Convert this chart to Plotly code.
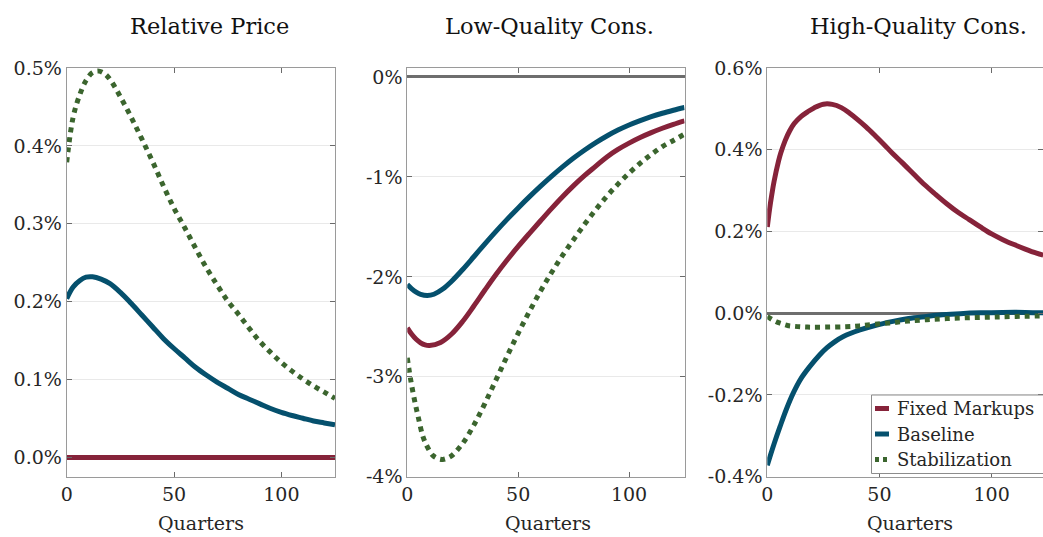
import plotly.graph_objects as go

# ---------------- data ----------------
titles = ["Relative Price", "Low-Quality Cons.", "High-Quality Cons."]
series_names = ["Fixed Markups", "Baseline", "Stabilization"]
x_label = "Quarters"

# Panel 1: Relative Price (%)
p1_fixed_t = [0, 25, 50, 75, 100, 125]
p1_fixed_v = [0, 0, 0, 0, 0, 0]
p1_base_t = [0, 3, 6, 9, 12, 16, 20, 25, 30, 35, 40, 45, 50, 55, 60, 65, 70, 75, 80, 85, 90, 95,
             100, 105, 110, 115, 120, 125]
p1_base_v = [0.204, 0.219, 0.227, 0.2315, 0.232, 0.229, 0.2235, 0.212, 0.198, 0.183, 0.168, 0.153,
             0.140, 0.128, 0.116, 0.106, 0.097, 0.089, 0.081, 0.075, 0.069, 0.063, 0.058, 0.054,
             0.0505, 0.047, 0.0445, 0.042]
p1_stab_t = [0, 3, 6, 9, 12, 15, 18, 21, 25, 30, 35, 40, 45, 50, 55, 60, 65, 70, 75, 80, 85, 90,
             95, 100, 105, 110, 115, 120, 125]
p1_stab_v = [0.379, 0.437, 0.465, 0.484, 0.494, 0.496, 0.492, 0.482, 0.463, 0.437, 0.409, 0.380,
             0.349, 0.320, 0.295, 0.269, 0.244, 0.222, 0.201, 0.184, 0.166, 0.149, 0.135, 0.122,
             0.111, 0.101, 0.092, 0.084, 0.076]

# Panel 2: Low-Quality Consumption (%)
p2_fixed_t = [0, 2, 4, 6, 8, 10, 15, 20, 25, 30, 35, 40, 45, 50, 55, 60, 65, 70, 75, 80, 85, 90,
              95, 100, 105, 110, 115, 120, 125]
p2_fixed_v = [-2.51, -2.575, -2.625, -2.66, -2.681, -2.687, -2.657, -2.572, -2.445, -2.292, -2.132,
              -1.977, -1.832, -1.696, -1.567, -1.441, -1.317, -1.198, -1.087, -0.985, -0.892,
              -0.80, -0.725, -0.662, -0.606, -0.557, -0.513, -0.474, -0.438]
p2_base_t = [0, 2, 4, 6, 9, 12, 16, 20, 25, 30, 35, 40, 45, 50, 55, 60, 65, 70, 75, 80, 85, 90,
             95, 100, 105, 110, 115, 120, 125]
p2_base_v = [-2.077, -2.12, -2.153, -2.175, -2.187, -2.174, -2.122, -2.044, -1.926, -1.799, -1.670,
             -1.545, -1.425, -1.31, -1.2, -1.095, -0.995, -0.900, -0.811, -0.730, -0.656, -0.590,
             -0.531, -0.480, -0.436, -0.397, -0.363, -0.333, -0.305]
p2_stab_t = [0, 1, 2, 3.5, 5, 7, 9, 11.5, 14, 16, 18, 20, 25, 30, 35, 40, 45, 50, 55, 60, 65, 70,
             75, 80, 85, 90, 95, 100, 105, 110, 115, 120, 125]
p2_stab_v = [-2.81, -2.96, -3.09, -3.26, -3.41, -3.594, -3.70, -3.787, -3.82, -3.827, -3.815,
             -3.791, -3.666, -3.484, -3.266, -3.031, -2.794, -2.565, -2.349, -2.146, -1.959,
             -1.786, -1.627, -1.472, -1.327, -1.193, -1.072, -0.962, -0.863, -0.776, -0.697,
             -0.635, -0.572]

# Panel 3: High-Quality Consumption (%)
p3_fixed_t = [0, 1, 2, 3, 5, 6, 8, 10, 12, 15, 18, 21, 25, 29, 33, 37, 40, 44, 48, 52, 56, 60,
              65, 70, 75, 80, 85, 90, 95, 100, 105, 110, 115, 120, 123]
p3_fixed_v = [0.211, 0.254, 0.290, 0.322, 0.372, 0.392, 0.423, 0.4465, 0.464, 0.481, 0.493, 0.503,
              0.5115, 0.511, 0.503, 0.488, 0.475, 0.456, 0.435, 0.413, 0.39, 0.369, 0.342, 0.315,
              0.291, 0.268, 0.247, 0.229, 0.211, 0.194, 0.180, 0.168, 0.157, 0.147, 0.142]
p3_base_t = [0, 3, 5.7, 8.5, 11.6, 15, 19, 23, 26.5, 30, 33.9, 41.3, 48, 56, 63, 71, 78, 86, 95,
             105, 115, 123]
p3_base_v = [-0.372, -0.32, -0.277, -0.235, -0.195, -0.16, -0.13, -0.104, -0.085, -0.07, -0.057,
             -0.041, -0.03, -0.02, -0.013, -0.008, -0.004, -0.001, 0.001, 0.002, 0.002, 0.001]
p3_stab_t = [0, 2, 4, 6, 9, 12, 18, 26, 35, 41, 48, 56, 63, 71, 80, 90, 100, 110, 123]
p3_stab_v = [-0.008, -0.015, -0.021, -0.025, -0.03, -0.032, -0.034, -0.034, -0.033, -0.031, -0.027,
             -0.023, -0.019, -0.016, -0.013, -0.011, -0.0095, -0.008, -0.0065]

# axis ticks
x_ticks = [0, 50, 100]
p1_yticks = [0.0, 0.1, 0.2, 0.3, 0.4, 0.5]
p1_ylabels = ["0.0%", "0.1%", "0.2%", "0.3%", "0.4%", "0.5%"]
p2_yticks = [0, -1, -2, -3, -4]
p2_ylabels = ["0%", "-1%", "-2%", "-3%", "-4%"]
p3_yticks = [0.6, 0.4, 0.2, 0.0, -0.2, -0.4]
p3_ylabels = ["0.6%", "0.4%", "0.2%", "0.0%", "-0.2%", "-0.4%"]

# ---------------- styling ----------------
W, H = 1043, 537
FONT = "DejaVu Serif"
RED = "#86233a"
BLUE = "#05506d"
GREEN = "#3b652e"
colors = [RED, BLUE, GREEN]
dashes = ["solid", "solid", "dot"]

panels = [
    [(p1_fixed_t, p1_fixed_v), (p1_base_t, p1_base_v), (p1_stab_t, p1_stab_v)],
    [(p2_fixed_t, p2_fixed_v), (p2_base_t, p2_base_v), (p2_stab_t, p2_stab_v)],
    [(p3_fixed_t, p3_fixed_v), (p3_base_t, p3_base_v), (p3_stab_t, p3_stab_v)],
]

xdom_px = [(66.7, 335.0), (407.3, 684.5), (767.3, 1043.0)]
xranges = [[0, 125], [0, 125], [0, 122.9]]
yranges = [[-0.0245, 0.5], [-4, 0.09], [-0.4, 0.6]]
yticks = [(p1_yticks, p1_ylabels), (p2_yticks, p2_ylabels), (p3_yticks, p3_ylabels)]
zerolines = [False, True, True]
ydom = [1 - 476.7 / H, 1 - 68 / H]

fig = go.Figure()

for i, panel in enumerate(panels):
    xa = "x" if i == 0 else f"x{i+1}"
    ya = "y" if i == 0 else f"y{i+1}"
    for j, (t, v) in enumerate(panel):
        fig.add_trace(go.Scatter(
            x=t, y=v, mode="lines", name=series_names[j],
            line=dict(color=colors[j], width=5, dash=dashes[j], shape="spline", smoothing=1.0),
            xaxis=xa, yaxis=ya, showlegend=False, hoverinfo="skip",
        ))

axis_common = dict(
    showline=True, linecolor="#9a9a9a", linewidth=1, mirror="ticks",
    ticks="inside", ticklen=5, tickcolor="#6a6a6a", tickwidth=1,
    tickfont=dict(family=FONT, size=19, color="#262626"),
    automargin=False,
)

layout = dict(
    width=W, height=H,
    margin=dict(l=0, r=0, t=0, b=0),
    paper_bgcolor="white", plot_bgcolor="white",
    font=dict(family=FONT, color="#262626"),
    showlegend=False,
)

for i in range(3):
    xk = "xaxis" if i == 0 else f"xaxis{i+1}"
    yk = "yaxis" if i == 0 else f"yaxis{i+1}"
    anchor_x = "y" if i == 0 else f"y{i+1}"
    anchor_y = "x" if i == 0 else f"x{i+1}"
    x0, x1 = xdom_px[i]
    layout[xk] = dict(
        axis_common, domain=[x0 / W, min(x1 / W, 1.0)], range=xranges[i],
        tickvals=x_ticks, ticktext=[str(v) for v in x_ticks],
        showgrid=False, zeroline=False, anchor=anchor_x,
    )
    layout[yk] = dict(
        axis_common, domain=ydom, range=yranges[i],
        tickvals=yticks[i][0], ticktext=yticks[i][1],
        showgrid=True, gridcolor="#e9e9e9", gridwidth=1,
        zeroline=zerolines[i], zerolinecolor="#6e6e6e", zerolinewidth=2.5,
        anchor=anchor_y,
    )

fig.update_layout(**layout)

title_cx = [209.5, 549.5, 918.0]
label_cx = [200.5, 547.5, 910.0]
for i in range(3):
    fig.add_annotation(
        text=titles[i], x=title_cx[i] / W, y=1 - 26 / H, xref="paper", yref="paper",
        xanchor="center", yanchor="middle", showarrow=False,
        font=dict(family=FONT, size=22.5, color="#111111"),
    )
    fig.add_annotation(
        text=x_label, x=label_cx[i] / W, y=1 - 523 / H, xref="paper", yref="paper",
        xanchor="center", yanchor="middle", showarrow=False,
        font=dict(family=FONT, size=19, color="#262626"),
    )

# ---- legend box (drawn in paper coordinates, inside panel 3) ----
LEG_L, LEG_T, LEG_B = 871.5, 395.0, 473.5
fig.add_shape(type="rect", xref="paper", yref="paper",
              x0=LEG_L / W, x1=1.01, y0=1 - LEG_B / H, y1=1 - LEG_T / H,
              line=dict(color="#8c8c8c", width=1), fillcolor="white", layer="above")
entry_y = [408.5, 434.0, 459.5]
for j, name in enumerate(series_names):
    yy = 1 - entry_y[j] / H
    fig.add_shape(type="line", xref="paper", yref="paper",
                  x0=875 / W, x1=889 / W, y0=yy, y1=yy,
                  line=dict(color=colors[j], width=5, dash=("4px,4px" if dashes[j] == "dot" else "solid")),
                  layer="above")
    fig.add_annotation(text=name, x=895 / W, y=yy, xref="paper", yref="paper",
                       xanchor="left", yanchor="middle", showarrow=False,
                       font=dict(family=FONT, size=18, color="#262626"))

fig.write_html("out.html")
